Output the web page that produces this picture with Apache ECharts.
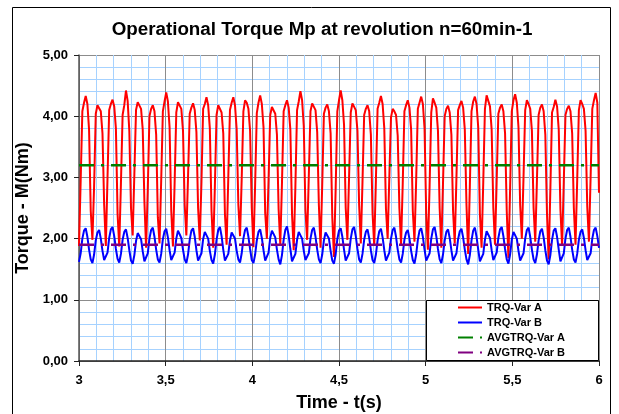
<!DOCTYPE html>
<html>
<head>
<meta charset="utf-8">
<script src="https://cdn.jsdelivr.net/npm/echarts@6/dist/echarts.min.js"></script>
<style>html,body{margin:0;padding:0;background:#fff}#c{width:619px;height:414px}</style>
</head>
<body>
<div id="c"></div>
<script>
// sampling of the measured traces
const T_START = 3;
const T_STEP = 3 / 310;
// TRQ-Var A (Nm), uniformly sampled from t=3 s to t=6 s
const trqA = [
1.88,2.95,4.08,4.22,4.33,4.20,3.78,2.45,
1.98,2.85,4.04,4.18,4.15,4.08,3.72,2.55,
1.88,3.00,4.10,4.20,4.27,4.16,3.80,2.40,
1.87,2.90,4.02,4.18,4.42,4.25,3.76,2.50,
2.05,3.05,4.10,4.23,4.20,4.12,3.78,2.60,
1.85,2.80,4.00,4.12,4.18,4.08,3.70,2.35,
1.92,2.95,4.08,4.24,4.39,4.24,3.82,2.45,
1.87,2.90,4.06,4.23,4.20,4.12,3.76,2.55,
2.05,3.00,4.04,4.14,4.21,4.10,3.74,2.50,
1.97,2.92,4.12,4.20,4.31,4.18,3.80,2.45,
1.85,2.85,4.02,4.18,4.15,4.06,3.72,2.40,
1.90,3.00,4.10,4.22,4.31,4.18,3.78,2.55,
2.04,2.98,4.08,4.26,4.22,4.12,3.76,2.50,
1.86,2.88,4.05,4.22,4.34,4.20,3.82,2.42,
2.00,2.95,4.02,4.15,4.12,4.04,3.70,2.48,
1.90,2.90,4.08,4.18,4.26,4.14,3.78,2.40,
1.81,2.85,4.10,4.24,4.41,4.26,3.84,2.45,
1.98,3.02,4.08,4.21,4.18,4.10,3.74,2.55,
1.85,2.88,4.04,4.14,4.19,4.08,3.72,2.35,
1.70,2.80,4.08,4.26,4.42,4.26,3.86,2.50,
1.98,3.00,4.06,4.21,4.18,4.10,3.76,2.55,
1.92,2.92,4.02,4.12,4.18,4.08,3.70,2.42,
1.88,2.95,4.12,4.22,4.33,4.20,3.80,2.48,
2.00,3.00,3.98,4.12,4.08,4.02,3.68,2.50,
1.90,2.90,4.08,4.18,4.26,4.14,3.78,2.45,
1.95,2.95,4.12,4.22,4.32,4.20,3.80,2.40,
1.82,2.85,4.06,4.29,4.22,4.14,3.76,2.50,
1.85,2.90,4.00,4.12,4.17,4.06,3.70,2.45,
1.92,2.98,4.10,4.18,4.25,4.14,3.78,2.55,
1.75,2.85,4.08,4.24,4.32,4.20,3.82,2.40,
1.85,2.92,4.12,4.34,4.25,4.16,3.78,2.50,
1.90,2.95,4.04,4.14,4.19,4.08,3.72,2.45,
1.68,2.80,4.08,4.26,4.36,4.22,3.82,2.55,
2.00,3.00,4.10,4.26,4.20,4.12,3.76,2.50,
1.95,2.95,4.02,4.14,4.19,4.08,3.70,2.40,
1.66,2.80,4.06,4.15,4.27,4.16,3.78,2.48,
1.88,2.92,4.02,4.12,4.17,4.08,3.72,2.50,
1.90,2.95,4.10,4.26,4.20,4.12,3.76,2.52,
1.95,3.00,4.12,4.26,4.38,4.22,2.75
];
// TRQ-Var B (Nm), same sampling
const trqB = [
1.62,1.76,2.00,2.13,2.17,2.03,1.82,1.66,
1.60,1.74,1.97,2.10,2.14,2.00,1.80,1.65,
1.63,1.77,2.01,2.15,2.19,2.04,1.83,1.67,
1.61,1.75,1.98,2.11,2.15,2.01,1.81,1.64,
1.59,1.73,1.96,2.09,2.12,1.99,1.79,1.63,
1.62,1.76,2.00,2.14,2.18,2.03,1.82,1.66,
1.61,1.75,1.99,2.12,2.16,2.02,1.81,1.65,
1.63,1.77,2.00,2.13,2.15,2.01,1.82,1.66,
1.60,1.74,1.98,2.13,2.17,2.03,1.81,1.64,
1.62,1.76,1.99,2.11,2.14,2.00,1.80,1.65,
1.59,1.74,1.98,2.14,2.19,2.04,1.82,1.64,
1.62,1.75,1.97,2.10,2.13,2.00,1.80,1.66,
1.61,1.76,2.00,2.14,2.18,2.03,1.83,1.65,
1.60,1.74,1.97,2.11,2.15,2.01,1.81,1.64,
1.63,1.77,2.01,2.13,2.16,2.02,1.82,1.66,
1.58,1.73,1.98,2.14,2.20,2.05,1.83,1.63,
1.61,1.75,1.98,2.11,2.14,2.00,1.80,1.65,
1.62,1.76,2.00,2.14,2.18,2.03,1.82,1.66,
1.60,1.74,1.97,2.10,2.13,2.00,1.80,1.64,
1.59,1.74,1.99,2.13,2.17,2.03,1.82,1.64,
1.62,1.76,2.00,2.15,2.19,2.04,1.83,1.66,
1.61,1.75,1.98,2.11,2.15,2.01,1.81,1.65,
1.60,1.74,1.97,2.12,2.16,2.02,1.81,1.64,
1.63,1.77,2.00,2.14,2.18,2.03,1.82,1.66,
1.61,1.75,1.98,2.10,2.14,2.00,1.80,1.65,
1.59,1.74,1.98,2.13,2.17,2.03,1.82,1.64,
1.62,1.76,2.00,2.15,2.19,2.04,1.83,1.66,
1.60,1.74,1.97,2.11,2.15,2.01,1.81,1.64,
1.62,1.76,1.99,2.12,2.16,2.02,1.82,1.66,
1.58,1.73,1.97,2.13,2.18,2.03,1.82,1.63,
1.61,1.75,1.98,2.12,2.15,2.01,1.81,1.65,
1.63,1.77,2.01,2.15,2.19,2.04,1.83,1.66,
1.59,1.74,1.98,2.11,2.14,2.00,1.80,1.64,
1.62,1.76,2.00,2.14,2.18,2.03,1.82,1.66,
1.60,1.74,1.97,2.12,2.16,2.02,1.81,1.64,
1.58,1.73,1.98,2.13,2.17,2.03,1.82,1.63,
1.62,1.76,2.00,2.14,2.18,2.03,1.82,1.66,
1.61,1.75,1.98,2.11,2.15,2.01,1.81,1.65,
1.62,1.76,2.00,2.14,2.18,2.04,1.85
];
// average lines
const avgTimes = [3, 6];
const avgA = [3.2, 3.2];
const avgB = [1.9, 1.9];
const seriesNames = ['TRQ-Var A', 'TRQ-Var B', 'AVGTRQ-Var A', 'AVGTRQ-Var B'];
const xTicks = [3, 3.5, 4, 4.5, 5, 5.5, 6];
const yTicks = [0, 1, 2, 3, 4, 5];
const titleText = 'Operational Torque Mp at revolution n=60min-1';
const xName = 'Time - t(s)';
const yName = 'Torque - M(Nm)';

const FONT = 'Arial, "Liberation Sans", sans-serif';
const toPairs = arr => arr.map((v, i) => [T_START + i * T_STEP, v]);
const avgPairs = arr => arr.map((v, i) => [avgTimes[i], v]);

const chart = echarts.init(document.getElementById('c'), null, {renderer: 'canvas'});
chart.setOption({
  animation: false,
  backgroundColor: '#ffffff',
  grid: {left: 79, right: 20, top: 55, bottom: 53, containLabel: false, outerBoundsMode: 'none'},
  graphic: [
    {type: 'rect', z: 0, silent: true, shape: {x: 12.5, y: 7.5, width: 598, height: 420},
     style: {fill: 'none', stroke: '#000', lineWidth: 1}},
    {type: 'text', x: 322, y: 30, silent: true,
     style: {text: titleText, font: 'bold 18.8px ' + FONT, fill: '#000', textAlign: 'center', textVerticalAlign: 'middle'}},
    {type: 'rect', z: 3, silent: true, shape: {x: 426.5, y: 300.5, width: 172, height: 60},
     style: {fill: '#fff', stroke: '#000', lineWidth: 1}}
  ],
  legend: {
    z: 5,
    orient: 'vertical',
    left: 457, top: 302,
    itemWidth: 24, itemHeight: 10, itemGap: 4,
    padding: 0,
    data: seriesNames,
    itemStyle: {opacity: 0},
    textStyle: {fontFamily: FONT, fontWeight: 'bold', fontSize: 11, color: '#000'},
    selectedMode: false
  },
  xAxis: {
    type: 'value', min: 3, max: 6, interval: 0.5,
    name: xName, nameLocation: 'middle', nameGap: 33,
    nameTextStyle: {fontFamily: FONT, fontWeight: 'bold', fontSize: 18, color: '#000'},
    axisLine: {show: true, onZero: false, lineStyle: {color: '#222', width: 1.5}},
    axisTick: {show: true, inside: false, length: 5, lineStyle: {color: '#222'}},
    axisLabel: {margin: 13, fontFamily: FONT, fontWeight: 'bold', fontSize: 13, color: '#000',
      formatter: v => xTicks.indexOf(v) >= 0 ? String(v).replace('.', ',') : ''},
    splitLine: {show: true, lineStyle: {color: '#8c8c8c', width: 1}},
    minorTick: {show: false, splitNumber: 5},
    minorSplitLine: {show: true, lineStyle: {color: '#a6d2ff', width: 1}}
  },
  yAxis: {
    type: 'value', min: 0, max: 5, interval: 1,
    name: yName, nameLocation: 'middle', nameGap: 39,
    nameTextStyle: {fontFamily: FONT, fontWeight: 'bold', fontSize: 18, color: '#000'},
    axisLine: {show: true, lineStyle: {color: '#555', width: 1.5}},
    axisTick: {show: true, inside: false, length: 5, lineStyle: {color: '#222'}},
    axisLabel: {margin: 11, fontFamily: FONT, fontWeight: 'bold', fontSize: 13, color: '#000',
      formatter: v => yTicks.indexOf(v) >= 0 ? v.toFixed(2).replace('.', ',') : ''},
    splitLine: {show: true, lineStyle: {color: '#8c8c8c', width: 1}},
    minorTick: {show: false, splitNumber: 5},
    minorSplitLine: {show: true, lineStyle: {color: '#a6d2ff', width: 1}}
  },
  series: [
    {name: seriesNames[0], type: 'line', data: toPairs(trqA), showSymbol: false, symbol: 'none',
     color: '#ff0000', lineStyle: {color: '#ff0000', width: 2}},
    {name: seriesNames[1], type: 'line', data: toPairs(trqB), showSymbol: false, symbol: 'none',
     color: '#0000ff', lineStyle: {color: '#0000ff', width: 2}},
    {name: seriesNames[2], type: 'line', data: avgPairs(avgA), showSymbol: false, symbol: 'none',
     color: '#008000', lineStyle: {color: '#008000', width: 2.5, type: [15, 7, 3, 7]}},
    {name: seriesNames[3], type: 'line', data: avgPairs(avgB), showSymbol: false, symbol: 'none',
     color: '#800080', lineStyle: {color: '#800080', width: 2.5, type: [15, 7, 3, 7]}}
  ]
});
</script>
</body>
</html>
